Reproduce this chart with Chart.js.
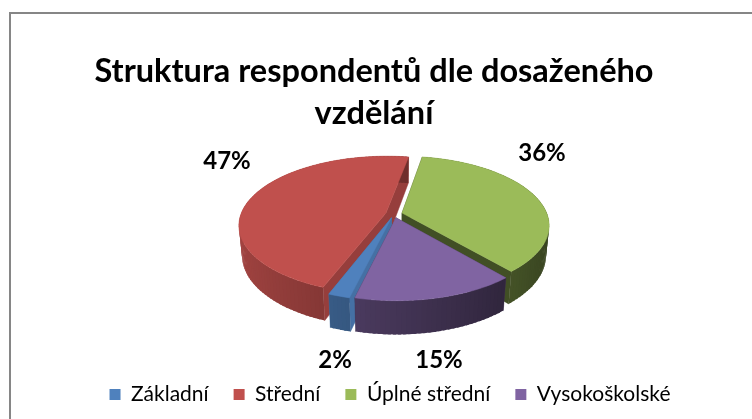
<!DOCTYPE html>
<html><head><meta charset="utf-8">
<style>html,body{margin:0;padding:0;background:#fff}canvas{display:block}</style>
<script src="https://cdn.jsdelivr.net/npm/chart.js@4"></script>
</head><body>
<canvas id="c" width="752" height="419"></canvas>
<script>
const categories = ['Základní','Střední','Úplné střední','Vysokoškolské'];
const values = [2,47,36,15];
const colors = ['#4F81BD','#C0504D','#9BBB59','#8064A2'];
const titleLines = ['Struktura respondentů dle dosaženého','vzdělání'];

// 3D presentation settings
const FONT = 'Lato, Carlito, sans-serif';
const VIEW = {cx:394, cy:214, rx:145, ry:67, persp:0.174, depth:30, bottomPersp:0.02};
const DRAW_ORDER = [1,2,0,3];
const WALL_BASE = [0.62,0.60,0.60,0.53];
const WALL_SLOPE = 0.23;
const CUT_SHADE = [0.87,0.78,0.42,0.5];
const LABEL_AT = [[335,360],[227,161],[542,153],[439,360]];

function shade(hex,f){
  const n=parseInt(hex.slice(1),16);
  return `rgb(${Math.round((n>>16&255)*f)},${Math.round((n>>8&255)*f)},${Math.round((n&255)*f)})`;
}
function proj(u,v,z){
  const s=1/(1-VIEW.persp*v+VIEW.bottomPersp*z);
  return [VIEW.cx+VIEW.rx*u*s, VIEW.cy+VIEW.ry*v*s+VIEW.depth*z*s];
}
function poly(ctx,pts,col,edge){
  ctx.beginPath();
  pts.forEach((p,i)=>i?ctx.lineTo(p[0],p[1]):ctx.moveTo(p[0],p[1]));
  ctx.closePath();
  ctx.fillStyle=col;ctx.fill();
  if(edge){ctx.strokeStyle=col;ctx.lineWidth=0.5;ctx.stroke();}
}
function drawSlice(ctx,el,i){
  const s=el.startAngle,e=el.endAngle,m=(s+e)/2;
  const k=(el.options.offset||0)/el.outerRadius;
  const ou=Math.cos(m)*k,ov=Math.sin(m)*k;
  const rim=a=>[ou+Math.cos(a),ov+Math.sin(a)];
  const col=colors[i];
  const cut=shade(col,CUT_SHADE[i]);
  [s,e].forEach(a=>{
    const r=rim(a);
    poly(ctx,[proj(ou,ov,0),proj(r[0],r[1],0),proj(r[0],r[1],1),proj(ou,ov,1)],cut,true);
  });
  const n=Math.max(4,Math.ceil((e-s)/0.03));
  const step=(e-s)/n;
  for(let j=0;j<n;j++){
    const a=s+step*j,b=Math.min(e,a+step*1.6);
    const p=rim(a),q=rim(b),mid=rim(a+step/2);
    const f=WALL_BASE[i]-WALL_SLOPE*mid[0];
    poly(ctx,[proj(p[0],p[1],0),proj(q[0],q[1],0),proj(q[0],q[1],1),proj(p[0],p[1],1)],shade(col,f),false);
  }
  const top=[proj(ou,ov,0)];
  for(let j=0;j<=n;j++){const p=rim(s+step*j);top.push(proj(p[0],p[1],0));}
  poly(ctx,top,col,true);
}
const pie3d={
  id:'pie3d',
  beforeDraw(chart){
    const c=chart.ctx;
    c.save();c.fillStyle='#fff';c.fillRect(0,0,chart.width,chart.height);
    c.strokeStyle='#868686';c.lineWidth=2;
    c.beginPath();c.moveTo(10,chart.height);c.lineTo(10,13);c.lineTo(chart.width,13);c.stroke();
    c.restore();
  },
  afterLayout(chart){chart.legend.left+=14;chart.legend.right+=14;chart.titleBlock.left-=2;chart.titleBlock.right-=2;},
  beforeDatasetDraw(chart,args){
    const c=chart.ctx,els=chart.getDatasetMeta(args.index).data;
    c.save();
    DRAW_ORDER.forEach(i=>drawSlice(c,els[i],i));
    c.restore();
    return false;
  },
  afterDatasetsDraw(chart){
    const c=chart.ctx;
    c.save();c.font='bold 24px '+FONT;c.fillStyle='#000';c.textAlign='center';c.textBaseline='middle';
    values.forEach((v,i)=>c.fillText(v+'%',LABEL_AT[i][0],LABEL_AT[i][1]));
    c.restore();
  }
};
new Chart(document.getElementById('c'),{
  type:'pie',
  data:{labels:categories,datasets:[{data:values,backgroundColor:colors,borderWidth:0,offset:6}]},
  options:{
    responsive:false,animation:false,rotation:193.6,
    layout:{padding:{top:0,bottom:4}},
    plugins:{
      title:{display:true,text:titleLines,color:'#000',font:{family:FONT,size:32.5,weight:'bold',lineHeight:1.3},padding:{top:50,bottom:10}},
      legend:{position:'bottom',labels:{color:'#000',font:{family:FONT,size:21},boxWidth:11,boxHeight:11,padding:25}},
      tooltip:{enabled:false}
    }
  },
  plugins:[pie3d]
});
</script>
</body></html>
